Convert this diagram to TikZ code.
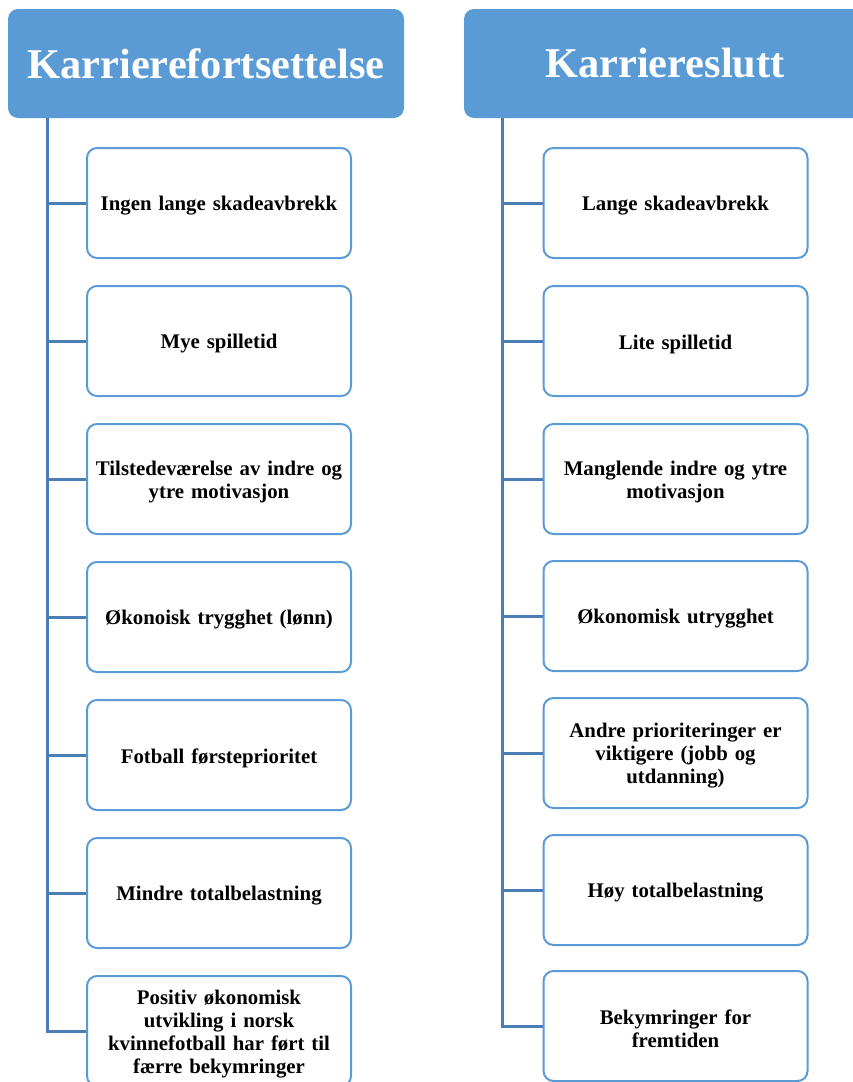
\documentclass[tikz,border=0pt]{standalone}
\usepackage{fontspec}
\setmainfont{Liberation Serif}
\definecolor{hdr}{HTML}{5B9BD5}
\definecolor{bdr}{HTML}{5B9BD5}
\definecolor{lnc}{HTML}{4A7EB5}
\tikzset{
  head/.style={fill=hdr, rounded corners=10pt, minimum height=109pt, inner sep=0pt,
    text=white, font=\bfseries\fontsize{42.4}{48}\selectfont},
  item/.style={draw=bdr, line width=2pt, fill=white, rounded corners=10pt,
    minimum width=264pt, minimum height=110pt, inner sep=0pt},
  itemtext/.style={inner sep=0pt, text width=258pt, align=center, yshift=-3pt,
    font=\bfseries\fontsize{20.8}{23}\selectfont},
  conn/.style={draw=lnc, line width=3pt}
}
\newcommand\itembox[3]{%
  \node[item] (#1) at (#2) {};
  \node[itemtext] (#1t) at (#1) {#3};}
\begin{document}
\begin{tikzpicture}[x=1pt,y=-1pt]
\useasboundingbox (0,0) rectangle (853,1082);
\begin{scope}
\clip (0,0) rectangle (853,1082);
\node[head, minimum width=396pt] (h1) at (206,63.5) {Karrierefortsettelse};
\node[head, minimum width=402pt] (h2) at (665,63.5) {Karriereslutt};
\coordinate (t1) at (47,118);
\coordinate (t2) at (502,118);
\itembox{L1}{219,203}{Ingen lange skadeavbrekk}
\itembox{L2}{219,341}{Mye spilletid}
\itembox{L3}{219,479}{Tilstedeværelse av indre og\\ytre motivasjon}
\itembox{L4}{219,617}{Økonoisk trygghet (lønn)}
\itembox{L5}{219,755}{Fotball førsteprioritet}
\itembox{L6}{219,893}{Mindre totalbelastning}
\itembox{L7}{219,1031}{Positiv økonomisk\\utvikling i norsk\\kvinnefotball har ført til\\færre bekymringer}
\itembox{R1}{675.5,203}{Lange skadeavbrekk}
\itembox{R2}{675.5,341}{Lite spilletid}
\itembox{R3}{675.5,479}{Manglende indre og ytre\\motivasjon}
\itembox{R4}{675.5,616}{Økonomisk utrygghet}
\itembox{R5}{675.5,753}{Andre prioriteringer er\\viktigere (jobb og\\utdanning)}
\itembox{R6}{675.5,890}{Høy totalbelastning}
\itembox{R7}{675.5,1026}{Bekymringer for\\fremtiden}
\draw[conn] (t1) |- (L7.west);
\draw[conn] (t2) |- (R7.west);
\foreach \n in {1,...,6} {
  \draw[conn] (L\n.west) -- (L\n.west -| t1);
  \draw[conn] (R\n.west) -- (R\n.west -| t2);
}
\end{scope}
\end{tikzpicture}
\end{document}
